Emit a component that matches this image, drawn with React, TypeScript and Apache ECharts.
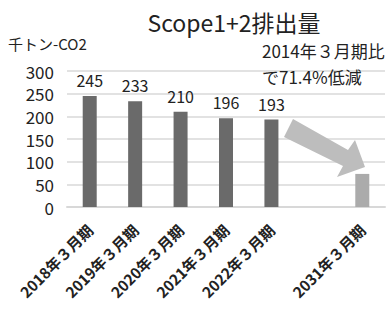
import React, { useEffect, useRef } from "react";
import * as echarts from "echarts";

const categories = ["2018年３月期", "2019年３月期", "2020年３月期", "2021年３月期", "2022年３月期", "", "2031年３月期"];
const values: (number | null)[] = [245, 233, 210, 196, 193, null, 73];
const isTarget = [false, false, false, false, false, false, true];
const yTicks = { min: 0, max: 300, interval: 50 };
const titleText = "Scope1+2排出量";
const unitText = "千トン-CO2";
const noteLines = ["2014年３月期比", "で71.4%低減"];

const FONT = "'Liberation Sans Narrow', 'Noto Sans CJK JP', 'DejaVu Sans', sans-serif";
const CJK = "'Noto Sans CJK JP', 'DejaVu Sans', sans-serif";

export default function App() {
  const ref = useRef<HTMLDivElement>(null);
  useEffect(() => {
    if (!ref.current) return;
    const chart = echarts.init(ref.current, null, { renderer: "svg" });
    chart.setOption({
      animation: false,
      backgroundColor: "#ffffff",
      title: {
        text: titleText,
        left: 229,
        top: 5,
        textAlign: "center",
        textStyle: { fontFamily: CJK, fontSize: 23, fontWeight: "normal", color: "#222" },
      },
      grid: { left: 67, right: 6, top: 71, bottom: 104 },
      xAxis: {
        type: "category",
        data: categories,
        axisLine: { lineStyle: { color: "#d8d8d8", width: 2 } },
        axisTick: { show: false },
        axisLabel: {
          rotate: 45,
          interval: 0,
          margin: 20,
          fontFamily: CJK,
          fontSize: 15,
          color: "#222",
          fontWeight: "bold",
        },
      },
      yAxis: {
        type: "value",
        min: yTicks.min,
        max: yTicks.max,
        interval: yTicks.interval,
        name: unitText,
        nameLocation: "end",
        nameGap: 20,
        nameTextStyle: { fontFamily: CJK, fontSize: 15, color: "#222", align: "left", padding: [0, 0, 0, -59] },
        axisLine: { show: false },
        axisTick: { show: false },
        axisLabel: { fontFamily: FONT, fontSize: 17, color: "#222", margin: 13 },
        splitLine: { lineStyle: { color: "#e2e2e2", width: 2 } },
      },
      series: [
        {
          type: "bar",
          barWidth: 14,
          data: values.map((v, i) => ({
            value: v,
            itemStyle: { color: isTarget[i] ? "#ababab" : "#6a6a6a" },
            label: { show: !isTarget[i] && v !== null },
          })),
          label: {
            position: "top",
            distance: 8,
            fontFamily: FONT,
            fontSize: 16,
            color: "#222",
          },
        },
      ],
      graphic: [
        {
          type: "text",
          left: 262,
          top: 42,
          z: 100,
          style: { text: noteLines[0], fontFamily: CJK, fontSize: 17, fill: "#222", backgroundColor: "transparent" },
        },
        {
          type: "text",
          left: 262,
          top: 68,
          z: 100,
          style: { text: noteLines[1], fontFamily: CJK, fontSize: 17, fill: "#222" },
        },
        {
          type: "polygon",
          z: 100,
          shape: {
            points: [
              [293, 119],
              [348, 150],
              [355, 140],
              [365, 167],
              [337, 177],
              [343, 166],
              [284, 137],
            ],
          },
          style: { fill: "#bdbdbd" },
        },
      ],
    });
    return () => chart.dispose();
  }, []);
  return <div ref={ref} style={{ width: 391, height: 311, position: "absolute", left: 0, top: 0 }} />;
}
